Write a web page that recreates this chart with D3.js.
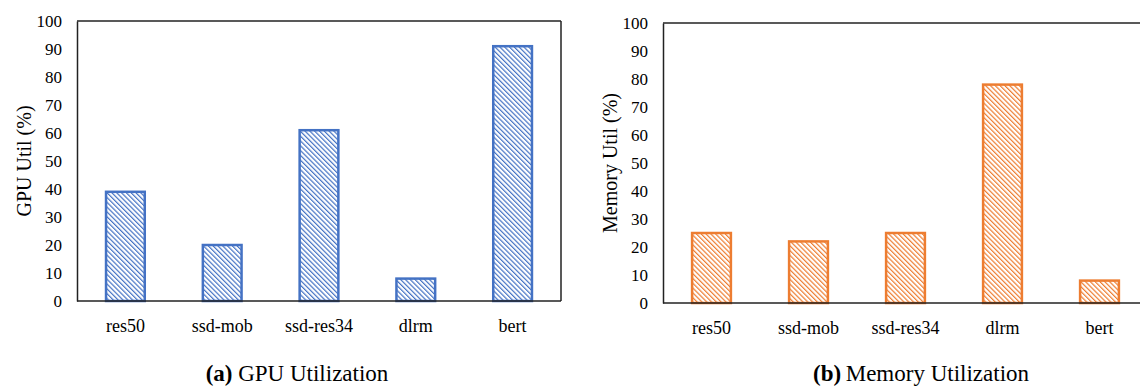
<!DOCTYPE html>
<html>
<head>
<meta charset="utf-8">
<script src="https://cdn.jsdelivr.net/npm/d3@7"></script>
<style>
  body { margin: 0; background: #fff; }
  svg { display: block; font-family: "Liberation Serif", "Times New Roman", serif; }
</style>
</head>
<body>
<div id="chart"></div>
<script>
var width = 1140;
var height = 386;

// data
var models = ["res50", "ssd-mob", "ssd-res34", "dlrm", "bert"];
var gpuUtil = [39, 20, 61, 8, 91];
var memUtil = [25, 22, 25, 78, 8];
var yTicks = [0, 10, 20, 30, 40, 50, 60, 70, 80, 90, 100];

var panels = [
  { id: "gpu", values: gpuUtil, color: "#4472c4", ylabel: "GPU Util (%)", tag: "(a)", caption: " GPU Utilization",
    left: 77, right: 561, top: 21, bottom: 301, capX: 297, labelX: 31 },
  { id: "mem", values: memUtil, color: "#ed7d31", ylabel: "Memory Util (%)", tag: "(b)", caption: "\u2009Memory Utilization",
    left: 663, right: 1148, top: 23, bottom: 303, capX: 921, labelX: 617 }
];

var svg = d3.select("#chart")
  .append("svg")
  .attr("width", width)
  .attr("height", height);

var defs = svg.append("defs");

panels.forEach(function(p) {
  // diagonal hatch "\\\"
  var pat = defs.append("pattern")
    .attr("id", "hatch-" + p.id)
    .attr("patternUnits", "userSpaceOnUse")
    .attr("width", 3.4)
    .attr("height", 3.4)
    .attr("patternTransform", "rotate(-45)");
  pat.append("rect")
    .attr("width", 3.4).attr("height", 3.4)
    .attr("fill", "#fff");
  pat.append("rect")
    .attr("width", 1.2).attr("height", 3.4)
    .attr("fill", p.color);

  var x = d3.scaleBand()
    .domain(models)
    .range([p.left, p.right])
    .paddingInner(0.6)
    .paddingOuter(0.3);

  var y = d3.scaleLinear()
    .domain([0, 100])
    .range([p.bottom, p.top]);

  var g = svg.append("g");

  // plot frame (top + right border)
  g.append("line")
    .attr("x1", p.left).attr("x2", p.right)
    .attr("y1", y(100)).attr("y2", y(100))
    .attr("stroke", "#222").attr("stroke-width", 1.5);
  g.append("line")
    .attr("x1", p.right).attr("x2", p.right)
    .attr("y1", y(100)).attr("y2", y(0))
    .attr("stroke", "#222").attr("stroke-width", 1.5);

  // bars
  g.selectAll("rect.bar")
    .data(p.values)
    .enter().append("rect")
    .attr("class", "bar")
    .attr("x", function(d, i) { return x(models[i]); })
    .attr("y", function(d) { return y(d); })
    .attr("width", x.bandwidth())
    .attr("height", function(d) { return y(0) - y(d); })
    .attr("fill", "url(#hatch-" + p.id + ")")
    .attr("stroke", p.color)
    .attr("stroke-width", 2.5);

  // y axis
  var yAxis = g.append("g")
    .attr("transform", "translate(" + p.left + ",0)")
    .call(d3.axisLeft(y).tickValues(yTicks).tickSize(0).tickPadding(15));
  yAxis.attr("font-family", null).attr("font-size", null);
  yAxis.select(".domain").attr("stroke", "#222").attr("stroke-width", 1.5);
  yAxis.selectAll("text")
    .style("font-family", "'Liberation Serif', serif")
    .style("font-size", "17px")
    .attr("fill", "#000");

  // x axis
  var xAxis = g.append("g")
    .attr("transform", "translate(0," + p.bottom + ")")
    .call(d3.axisBottom(x).tickSize(0).tickPadding(18));
  xAxis.attr("font-family", null).attr("font-size", null);
  xAxis.select(".domain").attr("stroke", "#222").attr("stroke-width", 1.5)
    .attr("d", "M" + p.left + ",0H" + Math.min(p.right, width));
  xAxis.selectAll("text")
    .style("font-family", "'Liberation Serif', serif")
    .style("font-size", "18px")
    .attr("fill", "#000");

  // y label
  g.append("text")
    .attr("transform", "translate(" + p.labelX + "," + ((p.top + p.bottom) / 2) + ") rotate(-90)")
    .attr("text-anchor", "middle")
    .attr("font-size", "20px")
    .attr("fill", "#000")
    .text(p.ylabel);

  // caption
  var cap = g.append("text")
    .attr("x", p.capX)
    .attr("y", 381)
    .attr("text-anchor", "middle")
    .attr("font-size", "23px")
    .attr("fill", "#000");
  cap.append("tspan").attr("font-weight", "bold").text(p.tag);
  cap.append("tspan").text(p.caption);
});
</script>
</body>
</html>
